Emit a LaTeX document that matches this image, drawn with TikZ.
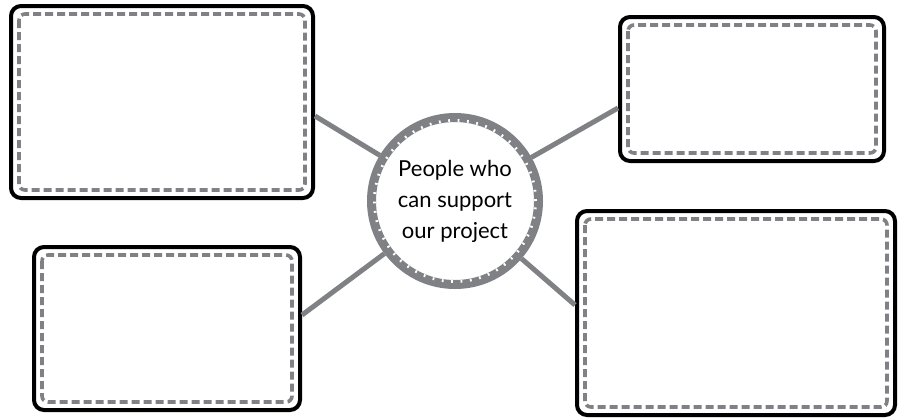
\documentclass[tikz,border=0pt]{standalone}
\usepackage{fontspec}
\usepackage{xcolor}
\newfontfamily\notefont{Lato}
\definecolor{ringGray}{RGB}{128,129,132}

\begin{document}
\begin{tikzpicture}[x=0.5pt, y=-0.5pt,
  notebox/.style={draw=black, line width=2pt, rounded corners=5pt, inner sep=0pt,
    path picture={\draw[ringGray, line width=1.8pt, dash pattern=on 4pt off 2pt, rounded corners=3pt]
      ([shift={(4pt,-4pt)}]path picture bounding box.north west) rectangle
      ([shift={(-4pt,4pt)}]path picture bounding box.south east);}},
  link/.style={draw=ringGray, line width=2.5pt}]
\useasboundingbox (0,0) rectangle (900,419);

% Central node
\node[circle, draw=ringGray, line width=4.5pt, fill=white, minimum size=83.5pt, inner sep=0pt,
  font=\notefont\fontsize{11}{15.5}\selectfont, align=center] (support) at (455,201)
  {People who\\can support\\our project};
\draw[white, line width=1.4pt, dash pattern=on 0.9pt off 3.8pt] (support.center) circle (40.3pt);

% Surrounding boxes
\node[notebox, minimum width=151pt, minimum height=96pt] (topleft) at (162,102) {};
\node[notebox, minimum width=132pt, minimum height=72pt] (topright) at (752,89) {};
\node[notebox, minimum width=133pt, minimum height=81.5pt] (bottomleft) at (167,328.5) {};
\node[notebox, minimum width=159pt, minimum height=102pt] (bottomright) at (736,313) {};

% Links
\draw[link] ([yshift=-7pt]topleft.east) -- (support);
\draw[link] ([yshift=-9.5pt]topright.west) -- (support);
\draw[link] ([yshift=6.75pt]bottomleft.east) -- (support);
\draw[link] ([yshift=4pt]bottomright.west) -- (support);
\end{tikzpicture}
\end{document}
